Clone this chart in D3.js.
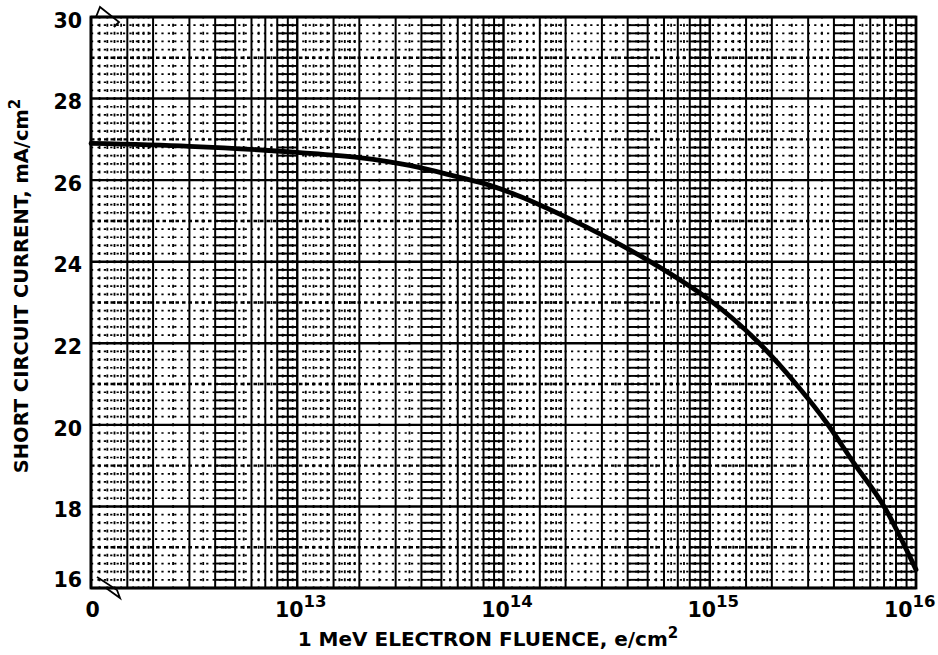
<!DOCTYPE html>
<html>
<head>
<meta charset="utf-8">
<script src="https://cdn.jsdelivr.net/npm/d3@7"></script>
<style>
  body { margin: 0; background: #fff; }
  svg { display: block; background: #fff; }
  text { font-family: "DejaVu Sans", sans-serif; font-weight: bold; fill: #000; }
</style>
</head>
<body>
<svg width="938" height="655"></svg>
<script>
// values
var fluence = [1e12, 3e12, 1e13, 2e13, 3.5e13, 6e13, 8e13, 1.1e14, 2e14, 5e14, 8e14, 1e15, 1.7e15, 2.6e15, 3.7e15, 5e15, 7e15, 1e16];
var iscValues = [26.90, 26.83, 26.68, 26.55, 26.36, 26.08, 25.92, 25.68, 25.10, 24.04, 23.40, 23.06, 22.05, 21.02, 20.04, 19.06, 18.00, 16.45];
var xTicks = [1e12, 1e13, 1e14, 1e15, 1e16];
var xTickBase = ["0", "10", "10", "10", "10"];
var xTickExp = ["", "13", "14", "15", "16"];
var yTicks = [16, 18, 20, 22, 24, 26, 28, 30];

// graph paper layout (per decade multipliers)
var decades = [1e12, 1e13, 1e14, 1e15];
var majorMult = [1, 1.5, 2, 3, 4, 5, 6, 7, 8, 9];
var minorMult = [1.1, 1.2, 1.3, 1.4, 1.6, 1.7, 1.8, 1.9, 2.5, 3.5, 4.5, 5.5, 6.5, 7.5, 8.5, 9.5];
var ladderCols = [[4, 5], [8, 10]];

var svg = d3.select("svg"),
    margin = {top: 17, right: 22, bottom: 67, left: 91},
    width = +svg.attr("width") - margin.left - margin.right,
    height = +svg.attr("height") - margin.top - margin.bottom;

var x = d3.scaleLog().domain([1e12, 1e16]).range([0, width]),
    y = d3.scaleLinear().domain([16, 30]).range([height, 0]);

var g = svg.append("g")
    .attr("transform", "translate(" + margin.left + "," + margin.top + ")");

var grid = g.append("g").attr("stroke", "#000").attr("fill", "none");

var fine = d3.range(80, 151).map(function(k) { return k / 5; });
var step = y(29.8) - y(30);

// horizontal fine dotted rows
grid.selectAll(".hfine")
  .data(fine.filter(function(v) { return Math.abs(v - Math.round(v)) > 0.01; }))
  .enter().append("line")
    .attr("x1", 0).attr("x2", width)
    .attr("y1", function(d) { return y(d); })
    .attr("y2", function(d) { return y(d); })
    .attr("stroke-width", 1.7)
    .attr("stroke-dasharray", "2.2,4.2");

// horizontal odd lines
grid.selectAll(".hodd")
  .data(d3.range(17, 30, 2))
  .enter().append("line")
    .attr("x1", 0).attr("x2", width)
    .attr("y1", function(d) { return y(d); })
    .attr("y2", function(d) { return y(d); })
    .attr("stroke-width", 2.4)
    .attr("stroke-dasharray", "3.5,3");

// vertical minor dotted
var minorX = [];
decades.forEach(function(dec) {
  minorMult.forEach(function(m) { minorX.push(dec * m); });
});
grid.selectAll(".vminor")
  .data(minorX)
  .enter().append("line")
    .attr("x1", function(d) { return x(d); })
    .attr("x2", function(d) { return x(d); })
    .attr("y1", 0).attr("y2", height)
    .attr("stroke-width", 1.8)
    .attr("stroke-dasharray", "3," + (step - 3))
    .attr("stroke-dashoffset", 1.5);

// ladder columns
var ladders = [];
decades.forEach(function(dec) {
  ladderCols.forEach(function(c) {
    fine.forEach(function(v) { ladders.push({a: dec * c[0], b: dec * c[1], v: v}); });
  });
});
grid.selectAll(".ladder")
  .data(ladders)
  .enter().append("line")
    .attr("x1", function(d) { return x(d.a); })
    .attr("x2", function(d) { return x(d.b); })
    .attr("y1", function(d) { return y(d.v); })
    .attr("y2", function(d) { return y(d.v); })
    .attr("stroke-width", 1.9);

// vertical major solid
var majorX = [];
decades.forEach(function(dec) {
  majorMult.forEach(function(m) { majorX.push(dec * m); });
});
grid.selectAll(".vmajor")
  .data(majorX)
  .enter().append("line")
    .attr("x1", function(d) { return x(d); })
    .attr("x2", function(d) { return x(d); })
    .attr("y1", 0).attr("y2", height)
    .attr("stroke-width", function(d, i) { return i % 10 === 0 ? 2.4 : 2; });

// horizontal even solid
grid.selectAll(".heven")
  .data(yTicks)
  .enter().append("line")
    .attr("x1", 0).attr("x2", width)
    .attr("y1", function(d) { return y(d); })
    .attr("y2", function(d) { return y(d); })
    .attr("stroke-width", 2.4);

// frame
g.append("rect")
    .attr("width", width).attr("height", height)
    .attr("fill", "none").attr("stroke", "#000").attr("stroke-width", 2.8);

// axis break marks
var brk = g.append("g").attr("fill", "none").attr("stroke", "#000").attr("stroke-width", 1.8);
brk.append("path").attr("d", "M5,0 L9,-10 L28,5 L23,10");
brk.append("path").attr("d", "M6," + (height - 11) + " L26," + (height + 2) + " L29," + (height + 10) + " L15," + height);

// curve
var line = d3.line()
    .x(function(d) { return x(d[0]); })
    .y(function(d) { return y(d[1]); })
    .curve(d3.curveMonotoneX);

g.append("path")
    .datum(d3.zip(fluence, iscValues))
    .attr("fill", "none")
    .attr("stroke", "#000")
    .attr("stroke-width", 4.8)
    .attr("stroke-linecap", "round")
    .attr("d", line);

// x axis
var gx = g.append("g")
    .attr("transform", "translate(0," + height + ")")
    .call(d3.axisBottom(x).tickValues(xTicks).tickSize(0).tickFormat(function() { return ""; }));
gx.select(".domain").remove();
gx.attr("font-family", null).attr("font-size", null);
gx.selectAll(".tick text").each(function(d, i) {
  var t = d3.select(this)
      .attr("y", 29).attr("dy", null)
      .attr("font-size", 20.5)
      .attr("x", i === 0 ? 1 : (i === xTicks.length - 1 ? 19 : 3))
      .attr("text-anchor", i === xTicks.length - 1 ? "end" : "middle");
  t.append("tspan").text(xTickBase[i]);
  if (xTickExp[i]) t.append("tspan").attr("font-size", 16.5).attr("dy", -10).text(xTickExp[i]);
});

// y axis
var gy = g.append("g")
    .call(d3.axisLeft(y).tickValues(yTicks).tickSize(0).tickPadding(9));
gy.select(".domain").remove();
gy.attr("font-family", null).attr("font-size", null);
gy.selectAll(".tick text")
    .attr("font-size", 20.5)
    .attr("dy", function(d) { return d === 16 ? "-0.05em" : "0.5em"; });

// titles
var xt = svg.append("text")
    .attr("x", 488).attr("y", 646)
    .attr("text-anchor", "middle")
    .attr("font-size", 20);
xt.append("tspan").text("1 MeV ELECTRON FLUENCE, e/cm");
xt.append("tspan").attr("font-size", 15).attr("dy", -8).text("2");

var yt = svg.append("text")
    .attr("transform", "translate(28,286) rotate(-90)")
    .attr("text-anchor", "middle")
    .attr("font-size", 19.5);
yt.append("tspan").text("SHORT CIRCUIT CURRENT, mA/cm");
yt.append("tspan").attr("font-size", 15).attr("dy", -8).text("2");
</script>
</body>
</html>
